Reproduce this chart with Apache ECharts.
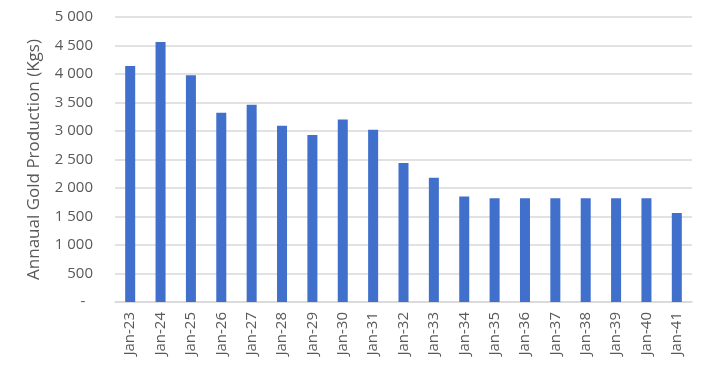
<!DOCTYPE html>
<html>
<head>
<meta charset="utf-8">
<script src="https://cdn.jsdelivr.net/npm/echarts@6/dist/echarts.min.js"></script>
<style>
  html, body { margin: 0; padding: 0; background: #fff; }
  #main { width: 707px; height: 367px; }
</style>
</head>
<body>
<div id="main"></div>
<script>
// 数据 -------------
var categories = ['Jan-23', 'Jan-24', 'Jan-25', 'Jan-26', 'Jan-27', 'Jan-28', 'Jan-29', 'Jan-30',
    'Jan-31', 'Jan-32', 'Jan-33', 'Jan-34', 'Jan-35', 'Jan-36', 'Jan-37', 'Jan-38', 'Jan-39', 'Jan-40', 'Jan-41'];
var production = [4140, 4560, 3980, 3320, 3460, 3090, 2930, 3200,
    3020, 2440, 2180, 1850, 1820, 1820, 1820, 1820, 1820, 1820, 1560];
var yTicks = [0, 500, 1000, 1500, 2000, 2500, 3000, 3500, 4000, 4500, 5000];

var myChart = echarts.init(document.getElementById('main'));

function fmt(v) {
    if (v === 0) return '-  ';
    var s = String(v);
    if (s.length > 3) s = s.slice(0, s.length - 3) + ' ' + s.slice(-3);
    return s;
}

var option = {
    animation: false,
    textStyle: {fontFamily: 'Open Sans'},
    grid: {left: 115, right: 15, top: 17, bottom: 65},
    xAxis: {
        type: 'category',
        data: categories,
        axisLine: {lineStyle: {color: '#d9d9d9', width: 1.5}},
        axisTick: {show: false},
        axisLabel: {rotate: 90, color: '#595959', fontSize: 15, margin: 10}
    },
    yAxis: {
        type: 'value',
        min: yTicks[0],
        max: yTicks[yTicks.length - 1],
        interval: 500,
        name: 'Annaual Gold Production (Kgs)',
        nameLocation: 'middle',
        nameGap: 72,
        nameTextStyle: {color: '#595959', fontSize: 17},
        axisLine: {show: false},
        axisTick: {show: false},
        axisLabel: {color: '#595959', fontSize: 15, margin: 22, formatter: fmt},
        splitLine: {lineStyle: {color: '#d9d9d9', width: 1.5}}
    },
    series: [
        {
            type: 'bar',
            data: production,
            barWidth: '33%',
            itemStyle: {color: '#4170cc'}
        }
    ]
};

myChart.setOption(option);

window.onresize = function () {
    myChart.resize();
};
</script>
</body>
</html>
